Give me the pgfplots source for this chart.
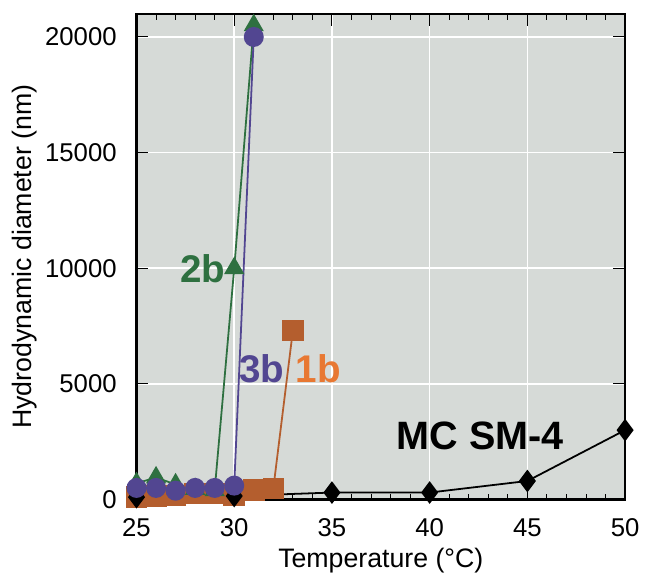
\documentclass[border=0pt]{standalone}
\usepackage{pgfplots}
\pgfplotsset{compat=1.18}
\usepackage{fontspec}
\setmainfont{Liberation Sans}
\definecolor{bgc}{RGB}{214,218,215}
\definecolor{cgreen}{RGB}{46,112,64}
\definecolor{cpurple}{RGB}{82,70,145}
\definecolor{corange}{RGB}{180,94,46}
\definecolor{corangetxt}{RGB}{232,120,50}
\begin{document}
\begin{tikzpicture}
\begin{axis}[
  name=ax,
  scale only axis,
  width=247pt, height=245.5pt,
  xmin=25, xmax=50, ymin=0, ymax=21000,
  xtick={25,30,...,50}, minor x tick num=4,
  ytick={0,5000,10000,15000,20000},
  tick align=inside,
  major tick length=6pt, minor tick length=3pt,
  tick style={black, line width=0.5pt},
  grid=major,
  major grid style={white, line width=0.8pt},
  axis background/.style={fill=bgc},
  axis line style={line width=1.2pt},
  clip=false,
  scaled y ticks=false,
  /pgf/number format/assume math mode=true,
  /pgf/number format/1000 sep={},
  ticklabel style={font=\fontsize{13}{15}\selectfont},
  xticklabel style={yshift=-6pt},
  yticklabel style={xshift=-6.5pt},
  label style={font=\fontsize{13.5}{15}\selectfont},
  xlabel={Temperature (°C)},
  ylabel={Hydrodynamic diameter (nm)},
  xlabel style={at={(axis description cs:0.5,-0.1263)}, anchor=center},
  ylabel style={at={(axis description cs:-0.2287,0.5)}, anchor=center},
]
% 1b orange squares
\addplot[corange, line width=0.9pt, mark=square*, mark size=5pt, mark options={fill=corange, draw=corange}]
 coordinates {(25,100) (26,150) (27,180) (28,250) (29,250) (30,200) (31,400) (32,470) (33,7300)};
% MC SM-4 black diamonds
\addplot[black, line width=0.9pt, mark=diamond*, mark size=5pt, mark options={fill=black}]
 coordinates {(25,100) (30,150) (35,300) (40,300) (45,800) (50,3000)};
% 2b green triangles
\addplot[cgreen, line width=0.9pt, mark=triangle*, mark size=5pt, mark options={fill=cgreen}]
 coordinates {(25,700) (26,950) (27,650) (28,450) (29,400) (30,10000) (31,20500)};
% 3b purple circles
\addplot[cpurple, line width=0.9pt, mark=*, mark size=4.6pt, mark options={fill=cpurple}]
 coordinates {(25,500) (26,500) (27,380) (28,500) (29,500) (30,600) (31,20000)};
\node[font=\fontsize{19.5}{22}\bfseries, text=cgreen] at (axis cs:28.4,10000) {2b};
\node[font=\fontsize{19.5}{22}\bfseries, text=cpurple] at (axis cs:31.4,5640) {3b};
\node[font=\fontsize{19.5}{22}\bfseries, text=corangetxt] at (axis cs:34.3,5640) {1b};
\node[font=\fontsize{20}{22}\bfseries, text=black] at (axis cs:42.6,2735) {MC SM-4};
\end{axis}
\path[use as bounding box] ([xshift=-69pt,yshift=-38pt]ax.south west) rectangle ([xshift=7pt,yshift=7pt]ax.north east);
\end{tikzpicture}
\end{document}
